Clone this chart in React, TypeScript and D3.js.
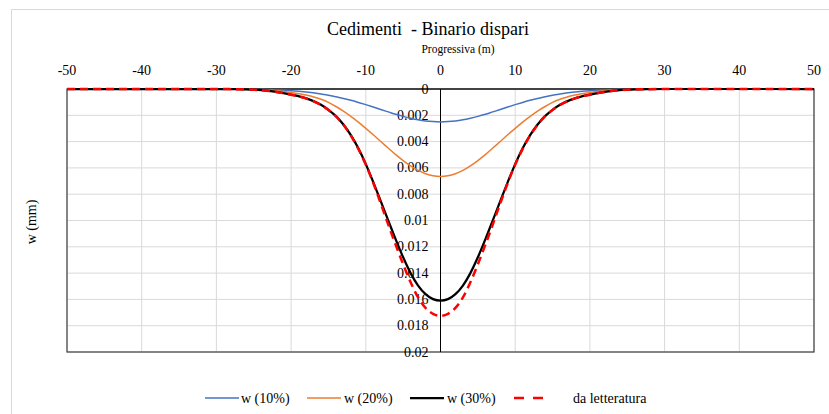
import React from "react";
import * as d3 from "d3";

// Progressiva (m): sample positions shared by every series
const PROGRESSIVA = [
  -50, -30, -28, -26, -24, -22, -20, -18, -16, -15, -14, -13, -12, -11, -10, -9, -8, -7, -6, -5, -4, -3, -2, -1,
  0,
  1, 2, 3, 4, 5, 6, 7, 8, 9, 10, 11, 12, 13, 14, 15, 16, 18, 20, 22, 24, 26, 28, 30, 50,
];

// Settlement magnitudes on one side of the axis, indexed by |x| position in HALF_X
const HALF_X = [0, 1, 2, 3, 4, 5, 6, 7, 8, 9, 10, 11, 12, 13, 14, 15, 16, 18, 20, 22, 24, 26, 28, 30, 50];

const W10_HALF = [
  0.0025, 0.00248, 0.00243, 0.00234, 0.00222, 0.00208, 0.00192, 0.00174, 0.00156, 0.00137, 0.00119, 0.00102,
  0.00086, 0.00072, 0.00059, 0.00047, 0.00038, 0.00023, 0.00013, 0.00007, 0.00004, 0.00002, 0.00001, 0, 0,
];
const W20_HALF = [
  0.00665, 0.0066, 0.00644, 0.00619, 0.00585, 0.00544, 0.00499, 0.00449, 0.00399, 0.00348, 0.00299, 0.00252,
  0.00208, 0.00168, 0.00133, 0.00102, 0.00078, 0.00046, 0.00026, 0.00013, 0.00006, 0.00003, 0.00001, 0, 0,
];
const W30_HALF = [
  0.0161, 0.01598, 0.0156, 0.01495, 0.014, 0.0128, 0.01144, 0.00999, 0.00853, 0.00708, 0.00571, 0.00451,
  0.00351, 0.0027, 0.00206, 0.00158, 0.0012, 0.00071, 0.00043, 0.00022, 0.00009, 0.00003, 0.00001, 0, 0,
];
const LETTERATURA_HALF = [
  0.01725, 0.0171, 0.01665, 0.01585, 0.0147, 0.01333, 0.01185, 0.0103, 0.0087, 0.00715, 0.00575, 0.00455,
  0.00354, 0.00272, 0.00207, 0.00159, 0.00121, 0.00071, 0.00043, 0.00022, 0.00009, 0.00003, 0.00001, 0, 0,
];

const X_TICKS = [-50, -40, -30, -20, -10, 0, 10, 20, 30, 40, 50];
const Y_TICKS = [0, 0.002, 0.004, 0.006, 0.008, 0.01, 0.012, 0.014, 0.016, 0.018, 0.02];

const SERIES_NAMES = ["w (10%)", "w (20%)", "w (30%)", "da letteratura"];
const SERIES_COLORS = ["#4472C4", "#ED7D31", "#000000", "#FF0000"];
const SERIES_WIDTHS = [1.5, 1.5, 2.25, 2.5];
const SERIES_DASH = ["", "", "", "8,5"];

function expand(half: number[]): number[] {
  return PROGRESSIVA.map((x) => half[HALF_X.indexOf(Math.abs(x))]);
}

const SERIES = [W10_HALF, W20_HALF, W30_HALF, LETTERATURA_HALF].map(expand);

const WIDTH = 829;
const HEIGHT = 414;
const PLOT = { left: 67, right: 814, top: 89, bottom: 352 };
const FONT = "'Liberation Serif', 'Times New Roman', serif";

export default function App() {
  const x = d3.scaleLinear().domain([-50, 50]).range([PLOT.left, PLOT.right]);
  const y = d3.scaleLinear().domain([0, 0.02]).range([PLOT.top, PLOT.bottom]);

  const line = d3
    .line<[number, number]>()
    .x((d) => x(d[0]))
    .y((d) => y(d[1]))
    .curve(d3.curveMonotoneX);

  const legendItems = [
    { lx: 205, tx: 241 },
    { lx: 307, tx: 344 },
    { lx: 410, tx: 447 },
    { lx: 514, tx: 573 },
  ];

  return (
    <svg
      width={WIDTH}
      height={HEIGHT}
      style={{ position: "absolute", left: 0, top: 0, background: "#fff" }}
      fontFamily={FONT}
    >
      <rect x={0} y={0} width={WIDTH} height={HEIGHT} fill="#fff" />
      {/* chart area frame */}
      <path d={`M11.5,${HEIGHT} V9.5 H${WIDTH}`} fill="none" stroke="#d9d9d9" strokeWidth={1} />

      {/* title */}
      <text x={428} y={35} textAnchor="middle" fontSize={18} fill="#000" style={{ whiteSpace: "pre" }}>
        {"Cedimenti  - Binario dispari"}
      </text>
      <text x={458} y={53} textAnchor="middle" fontSize={11.5} fill="#000">
        Progressiva (m)
      </text>

      {/* grid */}
      {X_TICKS.map((t) => (
        <line key={"gx" + t} x1={x(t)} x2={x(t)} y1={PLOT.top} y2={PLOT.bottom} stroke="#d9d9d9" strokeWidth={1} />
      ))}
      {Y_TICKS.map((t) => (
        <line key={"gy" + t} x1={PLOT.left} x2={PLOT.right} y1={y(t)} y2={y(t)} stroke="#d9d9d9" strokeWidth={1} />
      ))}

      {/* plot border */}
      <rect
        x={PLOT.left}
        y={PLOT.top}
        width={PLOT.right - PLOT.left}
        height={PLOT.bottom - PLOT.top}
        fill="none"
        stroke="#404040"
        strokeWidth={1.2}
      />

      {/* axes */}
      <line x1={PLOT.left} x2={PLOT.right} y1={y(0)} y2={y(0)} stroke="#000" strokeWidth={1} />
      <line x1={x(0)} x2={x(0)} y1={PLOT.top} y2={PLOT.bottom} stroke="#000" strokeWidth={1} />

      {/* x tick labels */}
      {X_TICKS.map((t) => (
        <text key={"tx" + t} x={x(t)} y={75} textAnchor="middle" fontSize={14} fill="#000">
          {t}
        </text>
      ))}

      {/* y tick labels */}
      {Y_TICKS.map((t) => (
        <text key={"ty" + t} x={x(0) - 12} y={y(t) + 4.5} textAnchor="end" fontSize={14} fill="#000">
          {d3.format("~g")(t)}
        </text>
      ))}

      {/* y axis title */}
      <text
        transform={`translate(36,${222}) rotate(-90)`}
        textAnchor="middle"
        fontSize={14}
        fill="#000"
      >
        w (mm)
      </text>

      {/* series */}
      {SERIES.map((vals, i) => (
        <path
          key={"s" + i}
          d={line(PROGRESSIVA.map((p, k) => [p, vals[k]] as [number, number])) || ""}
          fill="none"
          stroke={SERIES_COLORS[i]}
          strokeWidth={SERIES_WIDTHS[i]}
          strokeDasharray={SERIES_DASH[i] || undefined}
          strokeLinejoin="round"
        />
      ))}

      {/* legend */}
      {legendItems.map((it, i) => (
        <g key={"lg" + i}>
          <line
            x1={it.lx}
            x2={it.lx + 34}
            y1={398}
            y2={398}
            stroke={SERIES_COLORS[i]}
            strokeWidth={SERIES_WIDTHS[i]}
            strokeDasharray={i === 3 ? "10,9" : undefined}
          />
          <text x={it.tx} y={403} fontSize={14} fill="#000">
            {SERIES_NAMES[i]}
          </text>
        </g>
      ))}
    </svg>
  );
}
